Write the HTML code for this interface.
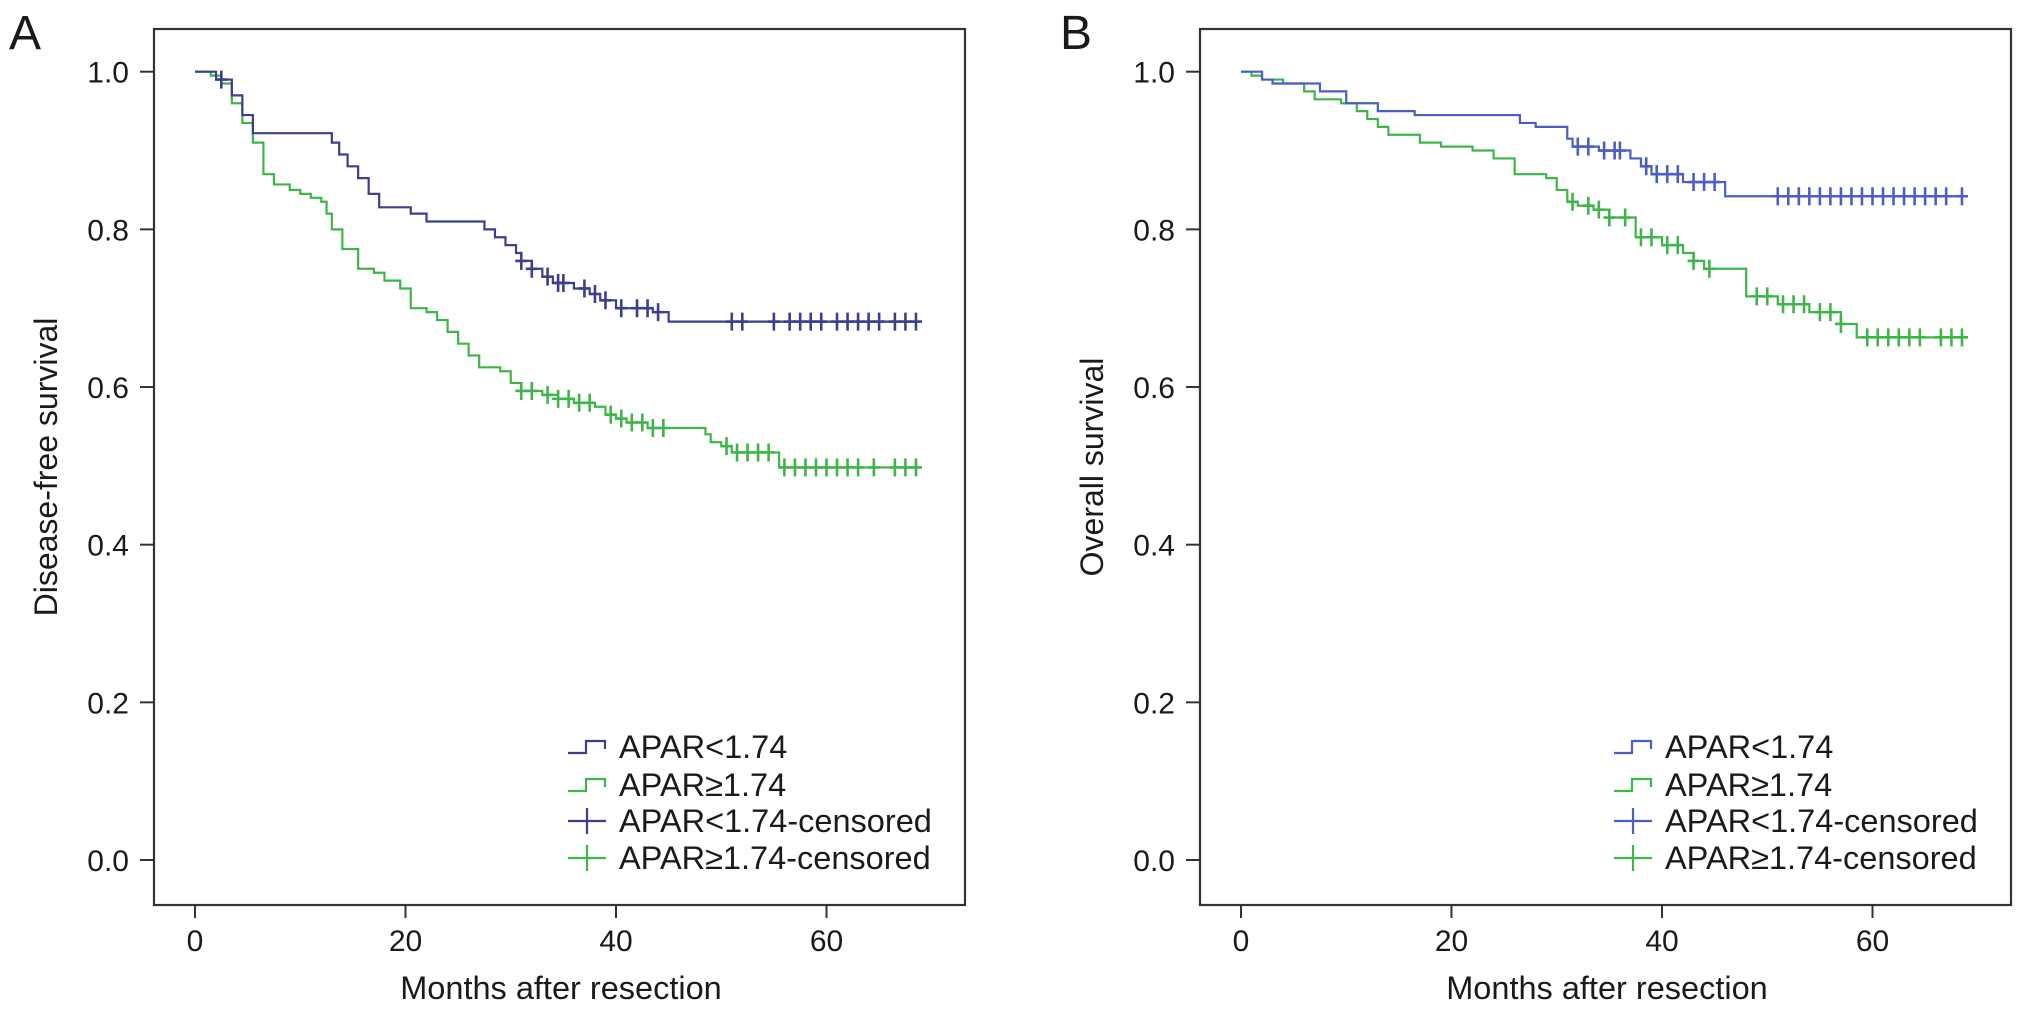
<!DOCTYPE html>
<html><head><meta charset="utf-8"><style>
html,body{margin:0;padding:0;background:#fff;}
svg{display:block;}
text{font-family:"Liberation Sans",sans-serif;fill:#1a1a1a;}
</style></head><body>
<svg id="fig" width="2032" height="1009" viewBox="0 0 2032 1009" xmlns="http://www.w3.org/2000/svg"></svg>
<script>
// ---- Panel A data (Disease-free survival) ----
const aBlueT = [0,2,3.5,4.5,5.5,13,13.7,14.5,15.5,16.5,17.5,20.5,22,27.5,28.5,29.5,30.5,31,32,33,34,36,37.5,38.5,40,43.5,45];
const aBlueS = [1,0.99,0.97,0.945,0.922,0.91,0.895,0.88,0.865,0.845,0.828,0.82,0.81,0.80,0.79,0.78,0.77,0.76,0.75,0.74,0.732,0.725,0.718,0.71,0.70,0.695,0.683];
const aBlueC = [2.5,31,32,33.5,34.5,35,37,38,39,40.5,42,43,44,51,52,55,56.5,57.5,58.5,59.5,61,62,63,64,65,66.5,67.5,68.5];
const aGreenT = [0,1.5,2.5,3.5,4.5,5.5,6.5,7.5,9,10,11,12,12.5,13,14,15.5,17,18,19.5,20.5,22,23,24,25,26,27,29,30,31,33,34.5,36,38,39,40,41,43,48.5,49,50,51,55.5];
const aGreenS = [1,0.995,0.985,0.96,0.935,0.91,0.87,0.857,0.85,0.845,0.84,0.835,0.82,0.80,0.775,0.75,0.745,0.735,0.725,0.70,0.695,0.685,0.67,0.655,0.64,0.625,0.62,0.605,0.595,0.59,0.585,0.58,0.575,0.565,0.56,0.555,0.548,0.54,0.53,0.525,0.517,0.498];
const aGreenC = [31,32,33.5,34.5,35.5,36.5,37.5,39.5,40.5,41.5,42.5,43.5,44.5,50.5,51.5,52.5,53.5,54.5,56,57,58,59,60,61,62,63,64.5,66.5,67.5,68.5];
// ---- Panel B data (Overall survival) ----
const bBlueT = [0,2,3,7.5,10,13,16.5,26.5,28,31,31.5,34,37,38,39,42,46];
const bBlueS = [1,0.99,0.985,0.975,0.96,0.95,0.945,0.935,0.93,0.915,0.905,0.9,0.89,0.88,0.87,0.86,0.842];
const bBlueC = [32,33,34.5,35.5,36,38.5,39.5,40.5,41.5,43,44,45,51,52,53,54,55,56,57,58,59,60,61,62,63,64,65,66,67,68.5];
const bGreenT = [0,1,2,4,6,7,9.5,11,12,13,14,17,19,22,24,26,29,30,31,32,33.5,35,37.5,40,42,43,44,48,51,54,57,58.5];
const bGreenS = [1,0.995,0.99,0.985,0.975,0.965,0.96,0.95,0.94,0.93,0.92,0.91,0.905,0.9,0.89,0.87,0.865,0.85,0.835,0.83,0.825,0.815,0.79,0.78,0.77,0.76,0.75,0.715,0.705,0.695,0.68,0.663];
const bGreenC = [31.5,33,34,35,36.5,38,39,40.5,41.5,43,44.5,49,50,51.5,52.5,53.5,55,56,57,59.5,60.5,61.5,62.5,63.5,64.5,66.5,67.5,68.5];
const xTicks = [0,20,40,60];
const yTicks = [0,0.2,0.4,0.6,0.8,1.0];
const legendLabels = ["APAR<1.74","APAR\u22651.74","APAR<1.74-censored","APAR\u22651.74-censored"];

const NS = "http://www.w3.org/2000/svg";
const svg = document.getElementById('fig');
function mk(tag, attrs, parent){const e=document.createElementNS(NS,tag);for(const k in attrs)e.setAttribute(k,attrs[k]);(parent||svg).appendChild(e);return e;}

function panel(off, letter, ytitle, blueCol, greenCol, bT,bS,bC,gT,gS,gC, key){
  const g = mk('g',{});
  
  
  const X = m => off + 195 + m*10.525;
  const Y = v => 860 - v*788.3;
  const L = off+154, R = off+965, T = 29, B = 905;
  const box = mk('rect',{x:L,y:T,width:R-L,height:B-T,fill:'none',stroke:'#333','stroke-width':2.2},g);
  
  
  const lt = mk('text',{x:off+ (key==='a'?9:14),y:49,'font-size':48},g); lt.textContent=letter;
  
  
  yTicks.forEach(v=>{
    mk('line',{x1:L-14,x2:L,y1:Y(v),y2:Y(v),stroke:'#333','stroke-width':2},g);
    const t = mk('text',{x:L-25,y:Y(v)+11,'font-size':30,'text-anchor':'end'},g); t.textContent=v.toFixed(1);
    
    
  });
  xTicks.forEach(m=>{
    mk('line',{x1:X(m),x2:X(m),y1:B,y2:B+13,stroke:'#333','stroke-width':2},g);
    const t = mk('text',{x:X(m),y:951,'font-size':30,'text-anchor':'middle'},g); t.textContent=m;
    
    
  });
  const xt = mk('text',{x:off+561,y:999,'font-size':32.5,'text-anchor':'middle'},g); xt.textContent='Months after resection';
  
  
  const yx = off+57, yy = 467;
  const yt = mk('text',{x:yx,y:yy,'font-size':32,'text-anchor':'middle',transform:`rotate(-90 ${yx} ${yy})`},g); yt.textContent=ytitle;
  
  
  function curve(T,S,C,col,name){
    let d = `M${X(T[0])},${Y(S[0])}`;
    for(let i=1;i<T.length;i++){ d+=` H${X(T[i])} V${Y(S[i])}`; }
    d += ` H${X(69)}`;
    const p = mk('path',{d:d,fill:'none',stroke:col,'stroke-width':2.2},g);
    
    
    C.forEach(c=>{
      let s = S[0]; for(let i=0;i<T.length;i++){ if(T[i]<=c) s=S[i]; }
      const cx=X(c), cy=Y(s);
      const m = mk('path',{d:`M${cx},${cy-9} V${cy+9} M${cx-6},${cy} H${cx+6}`,stroke:col,'stroke-width':2.6,fill:'none'},g);
      
      
    });
  }
  curve(gT,gS,gC,greenCol,'high-apar');
  curve(bT,bS,bC,blueCol,'low-apar');
  // legend
  const rows=[747,785,821,858];
  const cols=[blueCol,greenCol,blueCol,greenCol];
  rows.forEach((ry,i)=>{
    const sx = off+568;
    const sym = i<2
      ? mk('path',{d:`M${sx},${ry+6} H${sx+18} V${ry-6} H${sx+37} V${ry+2}`,stroke:cols[i],'stroke-width':2.2,fill:'none'},g)
      : mk('path',{d:`M${sx},${ry} H${sx+38} M${sx+19},${ry-13} V${ry+13}`,stroke:cols[i],'stroke-width':2.2,fill:'none'},g);
    
    
    const t = mk('text',{x:off+619,y:ry+11,'font-size':32.5},g); t.textContent=legendLabels[i];
    
    
  });
}
panel(0,'A','Disease-free survival','#3b3f8c','#3fb549',aBlueT,aBlueS,aBlueC,aGreenT,aGreenS,aGreenC,'a');
panel(1046,'B','Overall survival','#4a5ec4','#3fb549',bBlueT,bBlueS,bBlueC,bGreenT,bGreenS,bGreenC,'b');
</script>
</body></html>
